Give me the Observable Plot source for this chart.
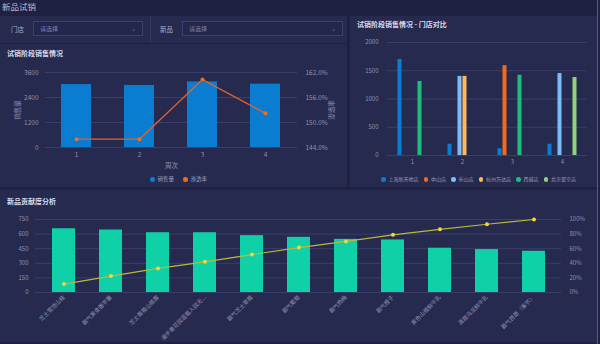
<!DOCTYPE html>
<html><head><meta charset="utf-8">
<script src="https://cdn.jsdelivr.net/npm/d3@7"></script>
<script src="https://cdn.jsdelivr.net/npm/@observablehq/plot@0.6"></script>
<style>
body{margin:0;width:600px;height:344px;background:#1e2142;font-family:"Noto Sans CJK SC","Noto Sans",sans-serif;overflow:hidden;position:relative}
.panel{position:absolute;background:#262a4e}
.title{position:absolute;color:#d8dbec;font-size:7px;font-weight:bold;white-space:nowrap}
.lbl{position:absolute;color:#a9adc8;font-size:6.5px;white-space:nowrap}
.sel{position:absolute;border:1px solid #3b4070;background:#23274b;color:#7e84a8;font-size:6px;box-sizing:border-box;padding-left:6px;line-height:13px}
.sel span{position:absolute;right:6px;top:0;color:#6c7296}
.chart{position:absolute}
.legend{position:absolute;display:flex;gap:9px;font-size:5.5px;color:#9a9ec0;white-space:nowrap;align-items:center}
.legend i{display:inline-block;width:4.5px;height:4.5px;border-radius:50%;margin-right:3px;vertical-align:middle}
</style></head>
<body>
<div class="lbl" style="left:2px;top:0px;font-size:8.5px;color:#b9bdd3">新品试销</div>
<div class="panel" style="left:0;top:16px;width:347px;height:27px"></div>
<div style="position:absolute;left:150px;top:16px;width:1px;height:27px;background:#343862"></div>
<div class="lbl" style="left:11px;top:24px">门店</div>
<div class="sel" style="left:33px;top:21px;width:110px;height:15px">请选择<span>⌄</span></div>
<div class="lbl" style="left:160px;top:24px">新品</div>
<div class="sel" style="left:182px;top:21px;width:161px;height:15px">请选择<span>⌄</span></div>

<div class="panel" style="left:0;top:44px;width:347px;height:143px"></div>
<div class="title" style="left:7px;top:48px">试销阶段销售情况</div>
<div class="chart" id="c1" style="left:0;top:60px"></div>
<div class="legend" style="left:150px;top:175px"><span><i style="background:#0b7dd0"></i>销售量</span><span><i style="background:#f06a1e"></i>渗透率</span></div>

<div class="panel" style="left:350px;top:16px;width:247px;height:171px"></div>
<div class="title" style="left:357px;top:19px">试销阶段销售情况 - 门店对比</div>
<div class="chart" id="c2" style="left:352px;top:32px"></div>
<div class="legend" id="lg2" style="left:381px;top:175px;gap:5px;font-size:5px"></div>

<div class="panel" style="left:0;top:190px;width:597px;height:152px"></div>
<div class="title" style="left:7px;top:196px">新品贡献度分析</div>
<div class="chart" id="c3" style="left:0;top:210px"></div>
<div style="position:absolute;left:597px;top:0;width:1px;height:344px;background:#1d8a2c"></div>

<script>
// ---- chart 1: weekly sales & rate
const weeks = [1, 2, 3, 4];
const weekSales = [3020, 2980, 3150, 3040];
const weekRate = [146.0, 146.0, 160.3, 152.2];
const salesTicks = [0, 1200, 2400, 3600];

// ---- chart 2: store comparison (per store, weeks 1..4)
const stores = ["上海新天地店", "中山店", "乐山店", "杭州万达店", "西城店", "北京望京店"];
const shanghaiSales = [1700, 200, 120, 200];
const zhongshanSales = [0, 0, 1590, 0];
const leshanSales = [0, 1400, 0, 1450];
const hangzhouSales = [0, 1400, 0, 0];
const xichengSales = [1310, 0, 1420, 0];
const beijingSales = [0, 0, 0, 1380];
const storeTicks = [0, 500, 1000, 1500, 2000];

// ---- chart 3: product contribution
const products = ["芝士雪顶山楂", "霸气黄金香芋薯", "芝士莓莓山楂露", "漫步者花园蓝莓入园无...", "霸气芝士草莓", "霸气葡萄", "霸气杨梅", "霸气橙子", "黄色山楂鲜牛乳", "清甜乌龙鲜牛乳", "霸气芭蕾（季节）"];
const productSales = [655, 642, 614, 614, 584, 567, 546, 540, 455, 441, 424];
const cumShare = [11.5, 22.5, 33, 42, 52, 61.5, 70, 79, 86.5, 93.5, 100];
const productTicks = [0, 150, 300, 450, 600, 750];

const storeColors = ["#0b7dd0", "#f26a1b", "#7dbdf5", "#ffb85e", "#1ebd7c", "#92d27a"];
const font = '"Noto Sans CJK SC","Noto Sans",sans-serif';
const gridColor = "#3a3e6b";
const txt = "#8d91b3";
const plain = d => String(d);

// chart 1
const t1 = weeks.map((w, i) => ({week: w, sales: weekSales[i], rate: weekRate[i]}));
const rateY = r => (r - 144) / 18 * 3600;
document.getElementById("c1").append(Plot.plot({
  width: 347, height: 110, marginTop: 12, marginBottom: 23, marginLeft: 45, marginRight: 50,
  style: {background: "transparent", color: txt, fontSize: "6.5px", fontFamily: font},
  x: {type: "band", domain: weeks, paddingInner: 0.52, paddingOuter: 0.26},
  y: {domain: [0, 3600]},
  marks: [
    Plot.gridY({ticks: salesTicks, stroke: gridColor, strokeOpacity: 1}),
    Plot.barY(t1, {x: "week", y: "sales", fill: "#0b7dd0"}),
    Plot.line(t1, {x: "week", y: d => rateY(d.rate), stroke: "#e0622c", strokeWidth: 1.3}),
    Plot.dot(t1, {x: "week", y: d => rateY(d.rate), fill: "#f36d1e", r: 2}),
    Plot.axisY({ticks: salesTicks, tickSize: 0, tickPadding: 7, tickFormat: plain, label: "销售量", labelAnchor: "center", labelOffset: 30, labelArrow: "none"}),
    Plot.axisY({anchor: "right", ticks: salesTicks, tickSize: 0, tickPadding: 8, tickFormat: d => (144 + d / 3600 * 18).toFixed(1) + "%", label: "渗透率", labelAnchor: "center", labelOffset: 36, labelArrow: "none"}),
    Plot.axisX({tickSize: 0, tickPadding: 5, label: "周次", labelAnchor: "center", labelOffset: 20, labelArrow: "none"})
  ]
}));

// chart 2
const storeSeries = [shanghaiSales, zhongshanSales, leshanSales, hangzhouSales, xichengSales, beijingSales];
const t2 = [];
weeks.forEach((w, i) => storeSeries.forEach((s, j) => t2.push({week: w, store: stores[j], sales: s[i]})));
document.getElementById("c2").append(Plot.plot({
  width: 245, height: 135, marginTop: 10, marginBottom: 12, marginLeft: 35, marginRight: 10,
  style: {background: "transparent", color: txt, fontSize: "6px", fontFamily: font},
  fx: {domain: weeks, padding: 0},
  x: {domain: stores, paddingInner: 0, paddingOuter: 2, axis: null},
  y: {domain: [0, 2000]},
  color: {domain: stores, range: storeColors},
  marks: [
    Plot.gridY({ticks: storeTicks, stroke: gridColor, strokeOpacity: 1}),
    Plot.barY(t2, {fx: "week", x: "store", y: "sales", fill: "store", insetLeft: 0.5, insetRight: 0.5}),
    Plot.axisY({ticks: storeTicks, tickSize: 0, tickPadding: 9, tickFormat: plain, label: null}),
    Plot.axisFx({anchor: "bottom", tickSize: 0, tickPadding: 4, label: null})
  ]
}));
const lg2 = document.getElementById("lg2");
stores.forEach((s, i) => {
  const sp = document.createElement("span");
  sp.innerHTML = `<i style="background:${storeColors[i]}"></i>${s}`;
  lg2.append(sp);
});

// chart 3
const t3 = products.map((p, i) => ({p, sales: productSales[i], cum: cumShare[i]}));
document.getElementById("c3").append(Plot.plot({
  width: 600, height: 134, marginTop: 9, marginBottom: 52, marginLeft: 35, marginRight: 39,
  style: {background: "transparent", color: txt, fontSize: "5.6px", fontFamily: font},
  x: {type: "band", domain: products, paddingInner: 0.52, paddingOuter: 0.26},
  y: {domain: [0, 750]},
  marks: [
    Plot.gridY({ticks: productTicks, stroke: gridColor, strokeOpacity: 1}),
    Plot.barY(t3, {x: "p", y: "sales", fill: "#10d0a8"}),
    Plot.line(t3, {x: "p", y: d => d.cum * 7.5, stroke: "#bdb63c", strokeWidth: 1.2}),
    Plot.dot(t3, {x: "p", y: d => d.cum * 7.5, fill: "#f0d83a", r: 2}),
    Plot.axisY({ticks: productTicks, tickSize: 0, tickPadding: 7, tickFormat: plain, label: null, fontSize: "6px"}),
    Plot.axisY({anchor: "right", ticks: productTicks, tickSize: 0, tickPadding: 8, tickFormat: d => Math.round(d / 7.5) + "%", label: null, fontSize: "6px"}),
    Plot.axisX({tickSize: 0, tickPadding: 4, tickRotate: -45, label: null})
  ]
}));
</script>
</body></html>
